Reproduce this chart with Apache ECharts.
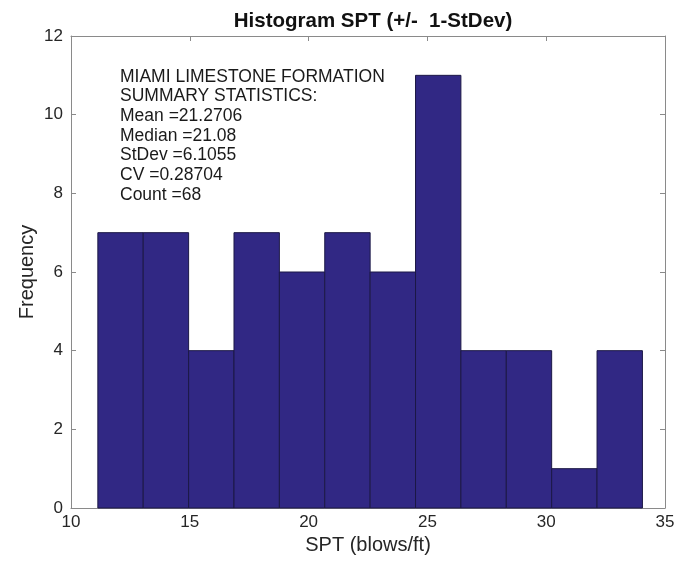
<!DOCTYPE html>
<html>
<head>
<meta charset="utf-8">
<script src="https://cdn.jsdelivr.net/npm/echarts@6/dist/echarts.min.js"></script>
<style>
  html, body { margin: 0; padding: 0; background: #ffffff; }
  #chart { width: 690px; height: 563px; }
</style>
</head>
<body>
<div id="chart"></div>
<script>
// Histogram bin edges (SPT, blows/ft) and counts per bin
var binEdges = [11.13, 13.04, 14.95, 16.86, 18.77, 20.68, 22.59, 24.50, 26.41, 28.32, 30.23, 32.14, 34.05];
var binCounts = [7, 7, 4, 7, 6, 7, 6, 11, 4, 4, 1, 4];

// Axis tick values
var xTicks = [10, 15, 20, 25, 30, 35];
var yTicks = [0, 2, 4, 6, 8, 10, 12];

// Summary statistics text block
var statsLines = [
  'MIAMI LIMESTONE FORMATION',
  'SUMMARY STATISTICS:',
  'Mean =21.2706',
  'Median =21.08',
  'StDev =6.1055',
  'CV =0.28704',
  'Count =68'
];

var binData = binCounts.map(function (c, i) {
  return [binEdges[i], binEdges[i + 1], c];
});

var FONT = '"Liberation Sans", Arial, sans-serif';
var AXIS_COLOR = '#8a8a8a';
var TEXT_COLOR = '#262626';

var xStep = xTicks[1] - xTicks[0];
var yStep = yTicks[1] - yTicks[0];

function baseX(show) {
  return {
    type: 'value',
    min: xTicks[0],
    max: xTicks[xTicks.length - 1],
    interval: xStep,
    splitLine: { show: false },
    axisLine: { show: true, onZero: false, lineStyle: { color: AXIS_COLOR, width: 1 } },
    axisTick: { show: true, inside: true, length: 5, lineStyle: { color: AXIS_COLOR } },
    axisLabel: { show: show, color: TEXT_COLOR, fontSize: 17, fontFamily: FONT, margin: 6 }
  };
}
function baseY(show) {
  return {
    type: 'value',
    min: yTicks[0],
    max: yTicks[yTicks.length - 1],
    interval: yStep,
    splitLine: { show: false },
    axisLine: { show: true, onZero: false, lineStyle: { color: AXIS_COLOR, width: 1 } },
    axisTick: { show: true, inside: true, length: 5, lineStyle: { color: AXIS_COLOR } },
    axisLabel: { show: show, color: TEXT_COLOR, fontSize: 17, fontFamily: FONT, margin: 8 }
  };
}

var xMain = baseX(true);
xMain.position = 'bottom';
xMain.name = 'SPT (blows/ft)';
xMain.nameLocation = 'middle';
xMain.nameGap = 25;
xMain.nameTextStyle = { color: TEXT_COLOR, fontSize: 20, fontFamily: FONT };
var xTop = baseX(false);
xTop.position = 'top';

var yMain = baseY(true);
yMain.position = 'left';
yMain.name = 'Frequency';
yMain.nameLocation = 'middle';
yMain.nameGap = 34;
yMain.nameMoveOverlap = false;
yMain.nameTextStyle = { color: TEXT_COLOR, fontSize: 20, fontFamily: FONT };
var yRight = baseY(false);
yRight.position = 'right';

var chart = echarts.init(document.getElementById('chart'), null, { renderer: 'canvas' });

chart.setOption({
  backgroundColor: '#ffffff',
  animation: false,
  title: {
    text: 'Histogram SPT (+/-  1-StDev)',
    left: 368,
    textAlign: 'center',
    top: 6,
    textStyle: { color: '#111111', fontSize: 20.5, fontWeight: 'bold', fontFamily: FONT }
  },
  grid: { left: 71, right: 25, top: 36, bottom: 55, containLabel: false },
  xAxis: [xMain, xTop],
  yAxis: [yMain, yRight],
  graphic: [{
    type: 'text',
    left: 120,
    top: 67,
    z: 10,
    style: {
      text: statsLines.join('\n'),
      fill: '#1a1a1a',
      font: '17.5px ' + FONT,
      lineHeight: 19.7
    }
  }],
  series: [{
    type: 'custom',
    xAxisIndex: 0,
    yAxisIndex: 0,
    data: binData,
    encode: { x: [0, 1], y: 2 },
    renderItem: function (params, api) {
      var p0 = api.coord([api.value(0), api.value(2)]);
      var p1 = api.coord([api.value(1), 0]);
      return {
        type: 'rect',
        shape: { x: p0[0], y: p0[1], width: p1[0] - p0[0], height: p1[1] - p0[1] },
        style: { fill: '#312884', stroke: '#1c1846', lineWidth: 1 }
      };
    }
  }]
});
</script>
</body>
</html>
